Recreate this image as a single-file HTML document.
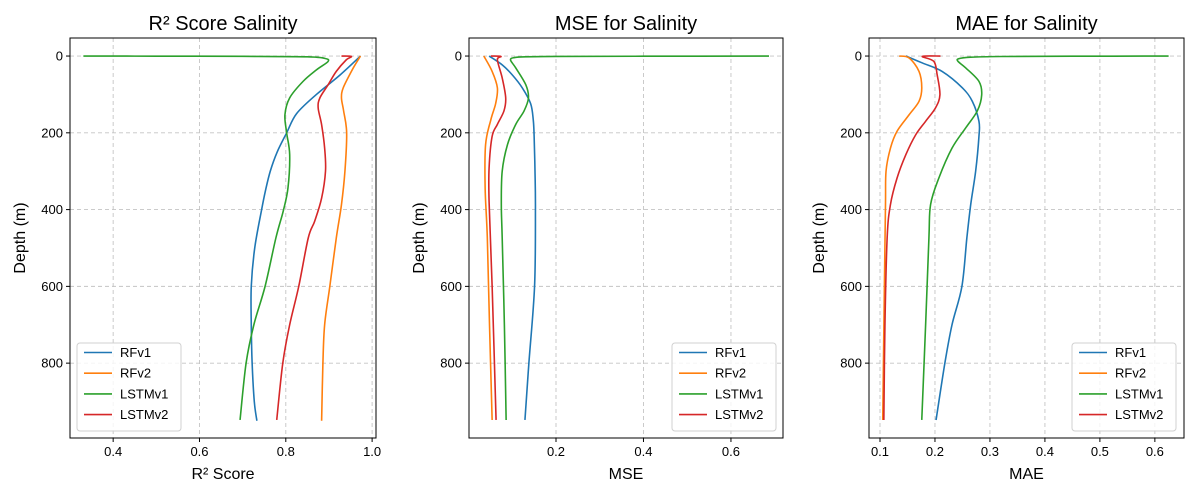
<!DOCTYPE html>
<html><head><meta charset="utf-8"><style>
body{margin:0;background:#fff;}
svg{display:block;font-family:"Liberation Sans","DejaVu Sans",sans-serif;}
</style></head><body>
<svg id="fig" width="1197" height="491" viewBox="0 0 1197 491"></svg>
<script>
const seriesNames = ["RFv1","RFv2","LSTMv1","LSTMv2"];
const colors = ["#1f77b4","#ff7f0e","#2ca02c","#d62728"];
const yTicks = [0,200,400,600,800];
// Panel 1: R2
const r2Depth_RFv1 = [0,50,100,150,200,250,300,350,400,500,600,700,800,900,950];
const r2_RFv1 = [0.973,0.925,0.871,0.825,0.802,0.78,0.764,0.753,0.744,0.728,0.72,0.72,0.722,0.727,0.733];
const r2Depth_RFv2 = [0,20,40,83,109,143,200,300,387,474,600,700,800,950];
const r2_RFv2 = [0.973,0.962,0.952,0.933,0.929,0.934,0.941,0.937,0.929,0.917,0.902,0.89,0.886,0.883];
const r2Depth_LSTMv1 = [0,0.3,0.8,2,6,14,36,66,109,153,200,257,344,404,474,600,700,800,948];
const r2_LSTMv1 = [0.331,0.5,0.7,0.85,0.89,0.898,0.871,0.84,0.809,0.798,0.802,0.809,0.805,0.794,0.777,0.752,0.726,0.708,0.694];
const r2Depth_LSTMv2 = [0,1,10,40,75,109,135,179,240,300,370,430,474,600,700,800,948];
const r2_LSTMv2 = [0.929,0.952,0.94,0.917,0.898,0.879,0.875,0.883,0.89,0.892,0.883,0.867,0.852,0.83,0.809,0.793,0.779];
// Panel 2: MSE
const mseDepth_RFv1 = [0,23,49,83,124,166,209,300,400,600,800,948];
const mse_RFv1 = [0.047,0.077,0.1,0.123,0.142,0.148,0.15,0.152,0.153,0.151,0.138,0.129];
const mseDepth_RFv2 = [0,40,83,124,166,231,344,474,700,948];
const mse_RFv2 = [0.035,0.054,0.066,0.062,0.051,0.039,0.038,0.043,0.048,0.054];
const mseDepth_LSTMv1 = [0,0.5,1,2,4,10,31,75,109,143,178,231,300,387,474,700,948];
const mse_LSTMv1 = [0.687,0.4,0.2,0.13,0.105,0.096,0.108,0.131,0.137,0.127,0.108,0.089,0.077,0.075,0.077,0.082,0.086];
const mseDepth_LSTMv2 = [0,1,10,57,109,143,178,209,292,379,600,948];
const mse_LSTMv2 = [0.051,0.074,0.066,0.077,0.085,0.081,0.066,0.054,0.047,0.047,0.054,0.063];
// Panel 3: MAE
const maeDepth_RFv1 = [0,18,40,83,118,170,209,300,387,474,600,700,800,948];
const mae_RFv1 = [0.147,0.177,0.213,0.25,0.268,0.28,0.28,0.274,0.265,0.258,0.249,0.231,0.218,0.202];
const maeDepth_RFv2 = [0,5,40,83,118,153,196,240,300,387,600,948];
const mae_RFv2 = [0.135,0.153,0.171,0.176,0.171,0.153,0.131,0.119,0.111,0.11,0.108,0.105];
const maeDepth_LSTMv1 = [0,0.5,1.2,3,7,14,31,66,101,143,187,240,318,387,474,700,948];
const mae_LSTMv1 = [0.625,0.45,0.32,0.265,0.243,0.242,0.256,0.28,0.285,0.277,0.256,0.231,0.207,0.192,0.189,0.183,0.176];
const maeDepth_LSTMv2 = [0,1,14,49,101,135,170,205,257,318,387,474,700,948];
const mae_LSTMv2 = [0.21,0.177,0.198,0.204,0.209,0.201,0.183,0.165,0.147,0.131,0.119,0.113,0.109,0.107];
const r2XTicks = [0.4,0.6,0.8,1.0];
const mseXTicks = [0.2,0.4,0.6];
const maeXTicks = [0.1,0.2,0.3,0.4,0.5,0.6];

const NS="http://www.w3.org/2000/svg";
const svg=document.getElementById('fig');
function mk(tag,attrs,parent){const e=document.createElementNS(NS,tag);for(const k in attrs)e.setAttribute(k,attrs[k]);(parent||svg).appendChild(e);return e;}
function txt(s,attrs,parent){const e=mk('text',attrs,parent);e.textContent=s;return e;}

const panels=[
 {key:'r2',title:'R² Score Salinity',xlabel:'R² Score',x0:70,x1:376,xmin:0.3,xmax:1.009,ticks:r2XTicks,fmt:v=>v.toFixed(1),
  depths:[r2Depth_RFv1,r2Depth_RFv2,r2Depth_LSTMv1,r2Depth_LSTMv2],vals:[r2_RFv1,r2_RFv2,r2_LSTMv1,r2_LSTMv2],legX:77},
 {key:'mse',title:'MSE for Salinity',xlabel:'MSE',x0:469,x1:783,xmin:0.0011,xmax:0.719,ticks:mseXTicks,fmt:v=>v.toFixed(1),
  depths:[mseDepth_RFv1,mseDepth_RFv2,mseDepth_LSTMv1,mseDepth_LSTMv2],vals:[mse_RFv1,mse_RFv2,mse_LSTMv1,mse_LSTMv2],legX:672},
 {key:'mae',title:'MAE for Salinity',xlabel:'MAE',x0:869,x1:1184,xmin:0.08,xmax:0.653,ticks:maeXTicks,fmt:v=>v.toFixed(1),
  depths:[maeDepth_RFv1,maeDepth_RFv2,maeDepth_LSTMv1,maeDepth_LSTMv2],vals:[mae_RFv1,mae_RFv2,mae_LSTMv1,mae_LSTMv2],legX:1072}
];
const Y0=38,Y1=438,DMIN=-47,DMAX=995;
function yScale(d){return Y0+(d-DMIN)/(DMAX-DMIN)*(Y1-Y0);}

function smoothPath(pts){
  let d='M'+pts[0][0].toFixed(2)+','+pts[0][1].toFixed(2);
  for(let i=0;i<pts.length-1;i++){
    const p0=pts[i-1]||pts[i],p1=pts[i],p2=pts[i+1],p3=pts[i+2]||p2;
    const t=0.5/3;
    const c1=[p1[0]+(p2[0]-p0[0])*t,p1[1]+(p2[1]-p0[1])*t];
    const c2=[p2[0]-(p3[0]-p1[0])*t,p2[1]-(p3[1]-p1[1])*t];
    d+=' C'+c1[0].toFixed(2)+','+c1[1].toFixed(2)+' '+c2[0].toFixed(2)+','+c2[1].toFixed(2)+' '+p2[0].toFixed(2)+','+p2[1].toFixed(2);
  }
  return d;
}

panels.forEach((p,pi)=>{
  const g=mk('g',{});
  
  
  const xs=v=>p.x0+(v-p.xmin)/(p.xmax-p.xmin)*(p.x1-p.x0);
  const cid='clip'+pi;
  const cp=mk('clipPath',{id:cid},g);mk('rect',{x:p.x0,y:Y0,width:p.x1-p.x0,height:Y1-Y0},cp);
  p.ticks.forEach(v=>{const x=xs(v);const l=mk('line',{x1:x,x2:x,y1:Y0,y2:Y1,stroke:'#c4c4c4','stroke-width':0.9,'stroke-dasharray':'4,3'},g);
    });
  yTicks.forEach(v=>{const y=yScale(v);const l=mk('line',{x1:p.x0,x2:p.x1,y1:y,y2:y,stroke:'#c4c4c4','stroke-width':0.9,'stroke-dasharray':'4,3'},g);
    });
  p.vals.forEach((vals,si)=>{
    const pts=vals.map((v,i)=>[xs(v),yScale(p.depths[si][i])]);
    const path=mk('path',{d:smoothPath(pts),fill:'none',stroke:colors[si],'stroke-width':1.6,'stroke-linejoin':'round','clip-path':'url(#'+cid+')'},g);
    
    
  });
  const fr=mk('rect',{x:p.x0,y:Y0,width:p.x1-p.x0,height:Y1-Y0,fill:'none',stroke:'#000','stroke-width':1},g);
  
  p.ticks.forEach(v=>{const x=xs(v);mk('line',{x1:x,x2:x,y1:Y1,y2:Y1+4,stroke:'#000'},g);
    const t=txt(p.fmt(v),{x:x,y:Y1+18,'font-size':13,'text-anchor':'middle',fill:'#000'},g);
    });
  yTicks.forEach(v=>{const y=yScale(v);mk('line',{x1:p.x0-4,x2:p.x0,y1:y,y2:y,stroke:'#000'},g);
    const t=txt(String(v),{x:p.x0-7,y:y+4.5,'font-size':13,'text-anchor':'end',fill:'#000'},g);
    });
  const tt=txt(p.title,{x:(p.x0+p.x1)/2,y:30,'font-size':20,'text-anchor':'middle',fill:'#000'},g);
  
  const xl=txt(p.xlabel,{x:(p.x0+p.x1)/2,y:479,'font-size':16,'text-anchor':'middle',fill:'#000'},g);
  
  const yl=txt('Depth (m)',{x:0,y:0,'font-size':16,'text-anchor':'middle',fill:'#000',transform:'translate('+(p.x0-45)+','+((Y0+Y1)/2)+') rotate(-90)'},g);
  
  const lg=mk('g',{},g);
  
  mk('rect',{x:p.legX,y:343,width:104,height:88,rx:3,fill:'#fff','fill-opacity':0.8,stroke:'#d0d0d0'},lg);
  seriesNames.forEach((n,si)=>{
    const y=352.5+si*20.7;
    const e=mk('g',{},lg);
    
    mk('line',{x1:p.legX+7,x2:p.legX+35,y1:y,y2:y,stroke:colors[si],'stroke-width':1.6},e);
    txt(n,{x:p.legX+43,y:y+4.5,'font-size':13,fill:'#000'},e);
  });
});
</script>
</body></html>
